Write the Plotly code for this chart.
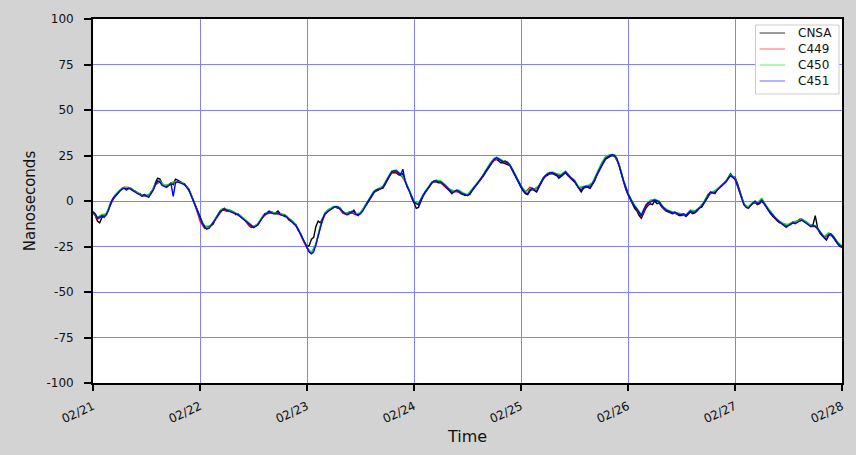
import pandas as pd
import plotly.graph_objects as go

# Clock offsets (ns) from 02/21 00:00 through 02/28 00:00.
# CNSA and C451 are sampled every 30 minutes, C449 and C450 hourly.
start = "2024-02-21 00:00"

cnsa = [
    -6.5, -8, -11, -12, -9, -8.5, -7, -4.5, -1.5, 1, 2.5, 4, 5, 7, 7.5, 6.5, 7, 7, 6, 5.5,
    4.5, 4, 3, 3.5, 3, 3, 5, 6.5, 10, 12.5, 12, 9.5, 8.5, 8, 9, 10, 9, 12, 11.5, 10.5,
    10, 9.5, 8, 6.5, 3.5, 0.5, -2.5, -6, -9.5, -11.5, -14.5, -14, -14, -13.5, -12.5, -9.5, -7.5, -5.5, -4.5, -4,
    -5.5, -5, -5.5, -6, -7.5, -7, -8, -9, -10, -11.5, -13.5, -14.5, -14, -13.5, -12.5, -10.5, -8.5, -7, -6.5, -5.5,
    -6, -6.5, -6.5, -5.5, -7, -7.5, -8.5, -8.5, -10.5, -10.5, -12.5, -13, -16, -17.5, -20.5, -23, -25, -24.5, -21, -20,
    -14, -11, -12, -9.5, -7.5, -5.5, -4.5, -4, -3, -3.5, -4, -4, -6.5, -6.5, -7, -6, -6.5, -5, -7, -8,
    -6.5, -5, -3.5, -1.5, 0.5, 2.5, 4.5, 5.5, 6, 7, 7, 9, 11.5, 13.5, 15.5, 15.5, 15.5, 14.5, 14, 15,
    10.5, 7.5, 5.5, 1.5, -1, -4, -3.5, 0, 2.5, 4.5, 6, 8, 10, 10.5, 10.5, 10, 10, 9, 8, 6.5,
    5.5, 4, 5.5, 5.5, 5, 4, 3.5, 3, 3.5, 3.5, 5.5, 7, 8.5, 10, 11.5, 13.5, 15.5, 17.5, 19.5, 21,
    22.5, 23, 22, 21, 21, 20.5, 20, 19.5, 17, 14.5, 12, 9.5, 7.5, 5.5, 4, 3.5, 5.5, 6.5, 5.5, 5,
    7.5, 10, 12, 13.5, 14.5, 15, 15, 14.5, 14, 12.5, 13.5, 14.5, 15.5, 14, 12.5, 11.5, 10.5, 8.5, 6.5, 5,
    7, 7.5, 7.5, 7, 9, 11, 14, 16.5, 18.5, 21, 23, 24, 24.5, 25, 24.5, 22.5, 19.5, 15, 10.5, 6.5,
    3.5, 1, -1.5, -4, -5.5, -8, -9.5, -6.5, -4, -2.5, -1.5, -2, 0, -1.5, -1, -3, -4.5, -5.5, -6, -6.5,
    -7, -6.5, -7.5, -8, -8, -7.5, -8.5, -7.5, -6, -7, -6.5, -5.5, -3.5, -3.5, -1.5, 0.5, 3, 4.5, 5, 4.5,
    6.5, 7.5, 8.5, 9.5, 11, 13, 15, 13.5, 13, 10, 6, 2, -1.5, -3, -3.5, -2, -1.5, -0.5, -2, -1.5,
    0, -1.5, -3.5, -5.5, -7, -8.5, -10, -11, -12, -12, -13, -14, -13, -12, -11.5, -11.5, -11, -10, -10, -11,
    -11.5, -12.5, -13.5, -13, -8, -14.5, -17.5, -19, -20.5, -21.5, -19, -18.5, -20, -22, -23.5, -25, -25.5,
]

c449 = [
    -6, -10, -8.5, -7.5, -1.5, 3, 5.5, 7.5, 7.5, 5.5,
    4.5, 3, 2.5, 4, 9, 10.5, 8.5, 8.5, 10, 10.5,
    10, 8, 3.5, -3, -11, -15, -15, -11.5, -8, -5,
    -5.5, -6, -7, -8.5, -10.5, -13.5, -14.5, -13, -9, -7,
    -6.5, -7, -7.5, -7.5, -10.5, -12, -15.5, -21, -26, -28.5,
    -24, -14, -7.5, -5, -3.5, -3.5, -6.5, -7.5, -6.5, -7.5,
    -7, -3, 1, 5, 6.5, 7.5, 12, 16, 16, 14.5,
    11, 5, -0.5, -2, 3, 6.5, 10, 11, 10.5, 8,
    6, 5, 5, 4, 3, 6, 9, 12, 16, 20,
    22.5, 23, 21.5, 21, 17.5, 12.5, 8, 5, 7.5, 6.5,
    8, 12.5, 15, 15.5, 14.5, 14, 16, 13, 11, 7,
    7.5, 8, 9.5, 14.5, 19, 23.5, 25, 25, 20, 11,
    4, -1, -5, -8.5, -3, -0.5, 0.5, -0.5, -4.5, -5.5,
    -6.5, -7, -7.5, -8, -5.5, -6, -4, -1, 3.5, 4.5,
    6, 8, 10.5, 14, 12, 5, -2, -4, -1, -1.5,
    0.5, -3, -6.5, -9.5, -11.5, -13.5, -13.5, -12, -11.5, -10.5,
    -12, -14, -14, -17, -20, -18.5, -19.5, -23, -25,
]

c450 = [
    -5.5, -9, -7.5, -7, -0.5, 3.5, 6, 7.5, 7.5, 6,
    4.5, 3, 3, 4.5, 9.5, 11, 8.5, 9, 10.5, 10.5,
    10, 8, 3.5, -2.5, -9.5, -13.5, -14.5, -11.5, -7.5, -4.5,
    -4.5, -5.5, -6.5, -8, -10, -12.5, -14, -12.5, -8.5, -6.5,
    -6, -6.5, -7, -7.5, -9.5, -11.5, -15, -20.5, -25.5, -28.5,
    -23.5, -13.5, -6.5, -4.5, -3, -3, -5.5, -7, -5.5, -7,
    -6.5, -2.5, 1.5, 5.5, 7, 8, 12.5, 16.5, 17, 15,
    11.5, 5.5, 0, -1.5, 3.5, 7, 10.5, 11.5, 11, 9,
    6.5, 5.5, 6, 4.5, 3.5, 6.5, 9.5, 12.5, 16.5, 20.5,
    23.5, 23.5, 22, 21.5, 18, 13, 8.5, 5, 6.5, 6.5,
    8.5, 13, 15.5, 16, 15, 14.5, 16.5, 13.5, 11.5, 7.5,
    8, 8.5, 10, 15, 20.5, 24.5, 25.5, 25.5, 20.5, 11.5,
    4.5, -0.5, -4, -7.5, -2, 0.5, 1, 0, -3.5, -5,
    -6, -6.5, -7, -7.5, -5, -5.5, -3.5, -0.5, 4, 5,
    6.5, 8.5, 11, 14.5, 12.5, 5.5, -1.5, -3.5, -0.5, -1,
    1.5, -2.5, -6, -9, -11, -12.5, -13, -11.5, -11, -10,
    -11.5, -13.5, -13.5, -16.5, -19.5, -17.5, -19, -22.5, -24.5,
]

c451 = [
    -6, -7, -9.5, -8.5, -8, -9, -7.5, -5, -1, 1.5, 3, 4.5, 5.5, 6.5, 7, 6, 7, 6.5, 5.5, 5,
    4, 3.5, 2.5, 3.5, 2.5, 2, 4, 6, 9, 11, 10.5, 8.5, 8, 7.5, 8.5, 9.5, 2.5, 10, 10.5, 10,
    9.5, 9, 7.5, 6, 3, 0, -3, -6.5, -10, -12, -14, -15.5, -15, -13.5, -12, -10, -8, -6, -5, -4.5,
    -5, -5.5, -6, -6.5, -7, -7.5, -8.5, -9.5, -10.5, -12, -13, -14, -14.5, -14, -13, -11, -9, -7.5, -7, -6,
    -6.5, -7, -7, -6.5, -7.5, -8, -8, -9, -10, -11, -12, -13.5, -15.5, -18, -21, -23.5, -26, -28, -29, -28,
    -24, -19, -14, -10, -7, -6, -5, -4.5, -3.5, -3, -3.5, -4.5, -6, -7, -7.5, -6.5, -6, -5.5, -7.5, -7.5,
    -7, -5.5, -3, -1, 1, 3, 5, 6, 6.5, 6.5, 7.5, 9.5, 12, 14, 16, 16.5, 16.5, 15.5, 14.5, 17.5,
    11, 8, 5, 2, -0.5, -1.5, -2, 0.5, 3, 5, 6.5, 8.5, 10, 11, 11, 10.5, 10.5, 9.5, 8.5, 7,
    6, 4.5, 5, 6, 5.5, 4.5, 4, 3.5, 3, 4, 6, 7.5, 9, 10.5, 12, 14, 16, 18, 20, 21.5,
    23, 24, 23, 22, 21.5, 22, 21, 20, 17.5, 15, 12.5, 10, 8, 6, 4.5, 4, 6, 7, 6, 5.5,
    8, 10.5, 12.5, 14, 15, 15.5, 15.5, 15, 14.5, 13.5, 14, 15, 16, 14.5, 13, 12, 11, 9, 7, 6,
    7.5, 8, 8, 7.5, 9.5, 11.5, 14.5, 17, 19, 21.5, 23.5, 24.5, 25, 25.5, 25, 23.5, 20, 15.5, 11, 7,
    4, 1.5, -1, -3, -4.5, -6.5, -8, -5, -2.5, -1, -0.5, 0, 0.5, 0, -0.5, -2.5, -4, -5, -5.5, -6,
    -6.5, -6, -7, -7.5, -7.5, -7, -8, -7, -5.5, -6.5, -6, -5, -4, -3, -1, 1, 3.5, 5, 4.5, 4,
    6, 7, 8, 9, 10.5, 12.5, 14, 13, 12, 9, 5, 1, -2, -3.5, -4, -2.5, -1, 0, -1.5, -1,
    0.5, -1, -3, -5, -6.5, -8, -9.5, -10.5, -11.5, -12.5, -13.5, -14.5, -13.5, -12.5, -12, -12.5, -11.5, -11, -10.5, -11.5,
    -12, -13, -14, -13.5, -14, -15, -17, -18.5, -20, -21, -18.5, -18, -19.5, -21.5, -23, -24.5, -25,
]

series_names = ["CNSA", "C449", "C450", "C451"]
series_values = [cnsa, c449, c450, c451]
series_step = ["30min", "h", "h", "30min"]
series_colors = ["#000000", "#ff0000", "#00e600", "#0000ff"]
legend_colors = ["#555555", "#ff8080", "#80f080", "#8080ff"]

y_ticks = [100, 75, 50, 25, 0, -25, -50, -75, -100]
y_tick_text = ["100", "75", "50", "25", "0", "-25", "-50", "-75", "-100"]
x_tick_days = ["2024-02-21", "2024-02-22", "2024-02-23", "2024-02-24",
               "2024-02-25", "2024-02-26", "2024-02-27", "2024-02-28"]
x_tick_text = ["02/21", "02/22", "02/23", "02/24", "02/25", "02/26", "02/27", "02/28"]

fig = go.Figure()
for name, vals, step, col in zip(series_names, series_values, series_step, series_colors):
    times = pd.date_range(start, periods=len(vals), freq=step)
    fig.add_trace(go.Scatter(
        x=times, y=vals, mode="lines", name=name,
        line=dict(color=col, width=1.4),
        showlegend=False,
    ))

# Legend box in the upper-right corner of the plot area
box_x0, box_x1, box_y0, box_y1 = 0.8845, 0.9960, 0.794, 0.9835
sample_x0, sample_x1, text_x = 0.8900, 0.9240, 0.9380
row_y = [0.9615, 0.9176, 0.8736, 0.8297]

fig.add_shape(type="rect", xref="paper", yref="paper",
              x0=box_x0, x1=box_x1, y0=box_y0, y1=box_y1,
              fillcolor="#ffffff", line=dict(color="#cccccc", width=1), layer="above")
for name, col, yy in zip(series_names, legend_colors, row_y):
    fig.add_shape(type="line", xref="paper", yref="paper",
                  x0=sample_x0, x1=sample_x1, y0=yy, y1=yy,
                  line=dict(color=col, width=1.2), layer="above")
    fig.add_annotation(x=text_x, y=yy, xref="paper", yref="paper",
                       text=name, showarrow=False, xanchor="left", yanchor="middle",
                       font=dict(size=12, color="#111111"))

font_family = "DejaVu Sans"
fig.update_layout(
    width=856, height=455,
    margin=dict(l=93, r=10, t=19, b=72),
    paper_bgcolor="#d3d3d3",
    plot_bgcolor="#ffffff",
    font=dict(family=font_family, size=11, color="#111111"),
    showlegend=False,
)

fig.update_xaxes(
    range=[x_tick_days[0], x_tick_days[-1]],
    tickvals=x_tick_days, ticktext=x_tick_text,
    tickangle=-25, ticks="outside", ticklen=6, tickwidth=1.5, tickcolor="#000000",
    tickfont=dict(size=12), ticklabelstandoff=4,
    showline=True, linecolor="#000000", linewidth=1.8, mirror=True,
    showgrid=True, gridcolor="#8080ff", gridwidth=1,
    zeroline=False,
    title=dict(text="Time", font=dict(size=16), standoff=6),
)
fig.update_yaxes(
    range=[-100, 100],
    tickvals=y_ticks, ticktext=y_tick_text,
    ticks="outside", ticklen=7, tickwidth=1.5, tickcolor="#000000",
    tickfont=dict(size=12), ticklabelstandoff=8,
    showline=True, linecolor="#000000", linewidth=1.8, mirror=True,
    showgrid=True, gridcolor="#8080ff", gridwidth=1,
    zeroline=False,
    title=dict(text="Nanoseconds", font=dict(size=15), standoff=7),
)

fig.write_html("out.html")
